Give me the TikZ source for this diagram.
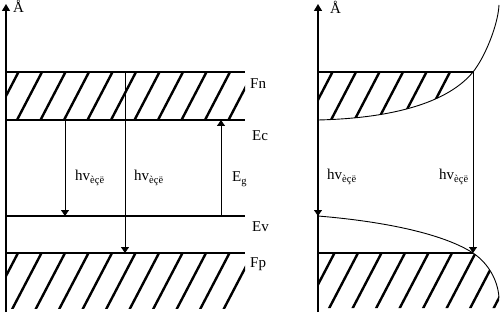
\documentclass[tikz,border=0pt]{standalone}
\usepackage{fontspec}
\setmainfont{Liberation Serif}
\usetikzlibrary{arrows.meta}
\tikzset{
  level/.style={line width=2.8pt},
  hatch/.style={line width=2.4pt},
  axis/.style={line width=1.4pt,-{Triangle[length=7pt,width=8pt]}},
  photon/.style={line width=.9pt,-{Triangle[length=6pt,width=8pt]}},
  lbl/.style={anchor=base west,inner sep=0pt},
}

\begin{document}
\begin{tikzpicture}[x=1pt,y=-1pt,font=\fontsize{15}{17}\selectfont]
  \useasboundingbox (0,0) rectangle (503,323);
  % left panel: flat bands
  \begin{scope}
    \clip (5,72) rectangle (245,120);
    \foreach \x in {-30,-6.5,...,260} \draw[hatch] (\x,120) -- ++(25,-48);
  \end{scope}
  \begin{scope}
    \clip (5,253) rectangle (245,308);
    \foreach \x in {-29,-5.5,...,270} \draw[hatch] (\x,253) ++(-35,67) -- ++(70,-134);
  \end{scope}
  \draw[level] (5,72) -- (245,72);
  \draw[level] (5,120) -- (245,120);
  \draw[level] (5,216) -- (245,216);
  \draw[level] (5,253) -- (245,253);
  \coordinate (o1) at (6,312);
  \coordinate (t1) at (6,4);
  \draw[axis] (o1) -- (t1);
  \node[lbl] (aa1) at (13,13) {Å};

  \coordinate (ec1) at (65,120);  \coordinate (ev1) at (65,216);
  \coordinate (fn1) at (125,72);  \coordinate (fp1) at (125,253);
  \coordinate (ec2) at (221,120); \coordinate (ev2) at (221,216);
  \draw[photon] (ec1) -- (ev1);
  \draw[photon] (fn1) -- (fp1);
  \draw[photon,{Triangle[length=6pt,width=8pt]}-] (ec2) -- (ev2);
  \node[lbl] (hv1) at (75,181) {hv\textsubscript{èçë}};
  \node[lbl] (hv2) at (134,181) {hv\textsubscript{èçë}};
  \node[lbl] (eg) at (232,182) {E\textsubscript{g}};

  \node[lbl] (fn) at (250,89) {Fn};
  \node[lbl] (ec) at (252,141) {Ec};
  \node[lbl] (ev) at (252,231) {Ev};
  \node[lbl] (fp) at (250,267) {Fp};

  % right panel: curved band edges
  \begin{scope}
    \clip (318,72) -- (473,72) .. controls (450,100) and (400,118) .. (318,120) -- cycle;
    \foreach \x in {309,332.5,...,480} \draw[hatch] (\x,72) ++(-30,57.6) -- ++(40,-76.8);
  \end{scope}
  \begin{scope}
    \clip (318,253) -- (473,253) .. controls (488,263) and (498,280) .. (499,298) -- (499,308) -- (318,308) -- cycle;
    \foreach \x in {311,334.5,...,540} \draw[hatch] (\x,253) ++(-35,67) -- ++(70,-134);
  \end{scope}
  \draw[line width=.9pt] (318,120) .. controls (400,118) and (450,100) .. (473,72)
    .. controls (485,57) and (498,25) .. (499,5);
  \draw[line width=.9pt] (318,216) .. controls (390,222) and (445,235) .. (473,253)
    .. controls (488,263) and (498,280) .. (499,298);
  \draw[level] (318,72) -- (473,72);
  \draw[level] (318,253) -- (473,253);
  \coordinate (o2) at (318,312);
  \coordinate (t2) at (318,4);
  \draw[axis] (o2) -- (t2);
  \node[lbl] (aa2) at (330,14) {Å};

  \coordinate (ec3) at (318,120); \coordinate (ev3) at (318,216);
  \coordinate (fn3) at (473,72);  \coordinate (fp3) at (473,253);
  \draw[photon] (ec3) -- (ev3);
  \draw[photon] (fn3) -- (fp3);
  \node[lbl] (hv3) at (327,180) {hv\textsubscript{èçë}};
  \node[lbl] (hv4) at (439,180) {hv\textsubscript{èçë}};
\end{tikzpicture}
\end{document}
